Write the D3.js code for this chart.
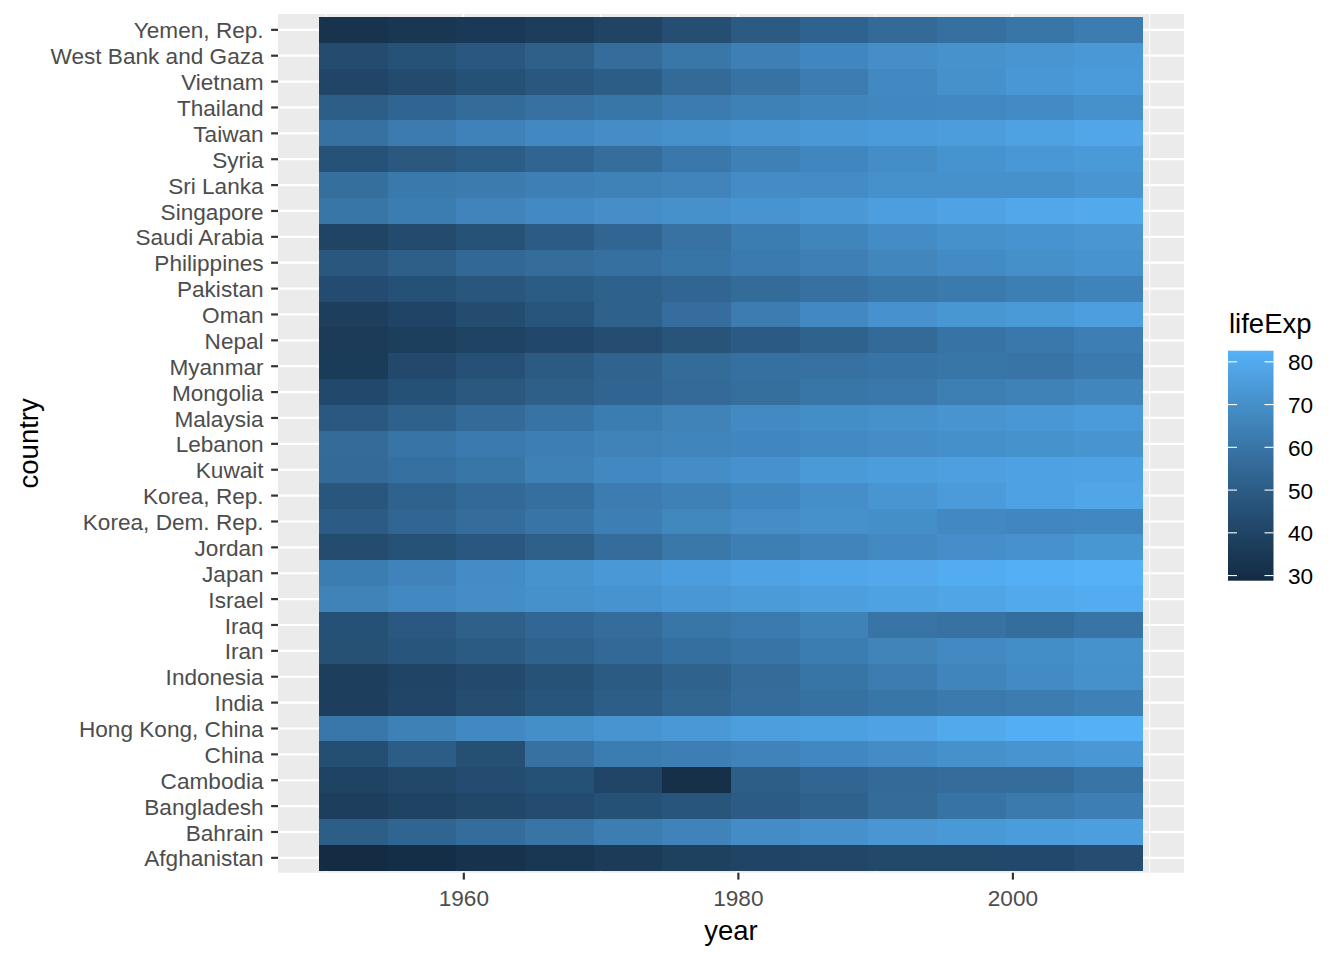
<!DOCTYPE html>
<html><head><meta charset="utf-8">
<script src="https://cdn.jsdelivr.net/npm/d3@7"></script>
<style>body{margin:0;background:#fff}svg{display:block;font-family:"Liberation Sans",Arial,sans-serif}</style>
</head><body><svg id="c" width="1344" height="960"></svg>
<script>
const years = [1952,1957,1962,1967,1972,1977,1982,1987,1992,1997,2002,2007];
const countries = ["Afghanistan","Bahrain","Bangladesh","Cambodia","China","Hong Kong, China","India","Indonesia","Iran","Iraq","Israel","Japan","Jordan","Korea, Dem. Rep.","Korea, Rep.","Kuwait","Lebanon","Malaysia","Mongolia","Myanmar","Nepal","Oman","Pakistan","Philippines","Saudi Arabia","Singapore","Sri Lanka","Syria","Taiwan","Thailand","Vietnam","West Bank and Gaza","Yemen, Rep."];
const lifeExp = [
[28.801,30.332,31.997,34.02,36.088,38.438,39.854,40.822,41.674,41.763,42.129,43.828],
[50.939,53.832,56.923,59.923,63.3,65.593,69.052,70.75,72.601,73.925,74.795,75.635],
[37.484,39.348,41.216,43.453,45.252,46.923,50.009,52.819,56.018,59.412,62.013,64.062],
[39.417,41.366,43.415,45.415,40.317,31.22,50.957,53.914,55.803,56.534,56.752,59.723],
[44,50.549,44.501,58.381,63.119,63.967,65.525,67.274,68.69,70.426,72.028,72.961],
[60.96,64.75,67.65,70,72,73.6,75.45,76.2,77.601,80,81.495,82.208],
[37.373,40.249,43.605,47.193,50.651,54.208,56.596,58.553,60.223,61.765,62.879,64.698],
[37.468,39.918,42.518,45.964,49.203,52.702,56.159,60.137,62.681,66.041,68.588,70.65],
[44.869,47.181,49.325,52.469,55.234,57.702,59.62,63.04,65.742,68.042,69.451,70.964],
[45.32,48.437,51.457,54.459,56.95,60.413,62.038,65.044,59.461,58.811,57.046,59.545],
[65.39,67.84,69.39,70.75,71.63,73.06,74.45,75.6,76.93,78.269,79.696,80.745],
[63.03,65.5,68.73,71.43,73.42,75.38,77.11,78.67,79.36,80.69,82,82.603],
[43.158,45.669,48.126,51.629,56.528,61.134,63.739,65.869,68.015,69.772,71.263,72.535],
[50.056,54.081,56.656,59.942,63.983,67.159,69.1,70.647,69.978,67.727,66.662,67.297],
[47.453,52.681,55.292,57.716,62.612,64.766,67.123,69.81,72.244,74.647,77.045,78.623],
[55.565,58.033,60.47,64.624,67.712,69.343,71.309,74.174,75.19,76.156,76.904,77.588],
[55.928,59.489,62.094,63.87,65.421,66.099,66.983,67.926,69.292,70.265,71.028,71.993],
[48.463,52.102,55.737,59.371,63.01,65.256,68,69.5,70.693,71.938,73.044,74.241],
[42.244,45.248,48.251,51.253,53.754,55.491,57.489,60.222,61.271,63.625,65.033,66.803],
[36.319,41.905,45.108,49.379,53.07,56.059,58.056,58.339,59.32,60.328,59.908,62.069],
[36.157,37.686,39.393,41.472,43.971,46.748,49.594,52.537,55.727,59.426,61.34,63.785],
[37.578,40.08,43.165,46.988,52.143,57.367,62.728,67.734,71.197,72.499,74.193,75.64],
[43.436,45.557,47.67,49.8,51.929,54.043,56.158,58.245,60.838,61.818,63.61,65.483],
[47.752,51.334,54.757,56.393,58.065,60.06,62.082,64.151,66.458,68.564,70.303,71.688],
[39.875,42.868,45.914,49.901,53.886,58.69,63.012,66.295,68.768,70.533,71.626,72.777],
[60.396,63.179,65.798,67.946,69.521,70.795,71.76,73.56,75.788,77.158,78.77,79.972],
[57.593,61.456,62.192,64.266,65.042,65.949,68.757,69.011,70.379,70.457,70.815,72.396],
[45.883,48.284,50.305,53.655,57.296,61.195,64.59,66.974,69.249,71.527,73.053,74.143],
[58.5,62.4,65.2,67.5,69.39,70.59,72.16,73.4,74.26,75.25,76.99,78.4],
[50.848,53.63,56.061,58.285,60.405,62.494,64.597,66.084,67.298,67.521,68.564,70.616],
[40.412,42.887,45.363,47.838,50.254,55.764,58.816,62.82,67.662,70.672,73.017,74.249],
[43.16,45.671,48.127,51.631,56.532,60.765,64.406,67.046,69.718,71.096,72.37,73.422],
[32.548,33.97,35.18,36.984,39.848,44.175,49.113,52.922,55.599,58.02,60.308,62.698]
];
const xTicks = [1960,1980,2000];
const xMinor = [1950,1970,1990,2010];
const legendTicks = [30,40,50,60,70,80];

const data = [];
countries.forEach((c,i)=>years.forEach((y,j)=>data.push({country:c,year:y,v:lifeExp[i][j]})));

const FS = 22.6, TS = 27.5;
const svg = d3.select("#c");
const P = {l:278, r:1184, t:14, b:872.7};
const x = d3.scaleLinear().domain([1946.5, 2012.5]).range([P.l,P.r]);
const yb = d3.scaleBand().domain(countries).range([870.8,16.9]).padding(0);
const allV = data.map(d=>d.v);
const col = d3.scaleLinear().domain(d3.extent(allV)).range(["#132B43","#56B1F7"]).interpolate(d3.interpolateLab);

svg.append("rect").attr("x",P.l).attr("y",P.t).attr("width",P.r-P.l).attr("height",P.b-P.t).attr("fill","#EBEBEB");
const g = svg.append("g");
xMinor.forEach(t=>g.append("line").attr("x1",x(t)).attr("x2",x(t)).attr("y1",P.t).attr("y2",P.b).attr("stroke","#fff").attr("stroke-width",1.1));
xTicks.forEach(t=>g.append("line").attr("x1",x(t)).attr("x2",x(t)).attr("y1",P.t).attr("y2",P.b).attr("stroke","#fff").attr("stroke-width",2.2));
countries.forEach(c=>{const yy=yb(c)+yb.bandwidth()/2; g.append("line").attr("x1",P.l).attr("x2",P.r).attr("y1",yy).attr("y2",yy).attr("stroke","#fff").attr("stroke-width",2.2);});

svg.append("g").selectAll("rect").data(data).join("rect")
  .attr("x",d=>x(d.year-2.5)).attr("width",d=>x(d.year+2.5)-x(d.year-2.5))
  .attr("y",d=>yb(d.country)).attr("height",yb.bandwidth())
  .attr("fill",d=>col(d.v)).attr("shape-rendering","crispEdges");

// axes
const xa = svg.append("g").attr("transform",`translate(0,${P.b})`)
  .call(d3.axisBottom(x).tickValues(xTicks).tickFormat(d3.format("d")).tickSize(6.9).tickPadding(6));
xa.select(".domain").remove();
xa.selectAll("line").attr("stroke","#333").attr("stroke-width",2.2);
xa.selectAll("text").attr("fill","#4D4D4D").attr("dy",null).attr("y",33.3).style("font-size",FS+"px").style("font-family","'Liberation Sans',Arial,sans-serif");
const ya = svg.append("g").attr("transform",`translate(${P.l},0)`)
  .call(d3.axisLeft(yb).tickSize(6.9).tickPadding(7.5));
ya.select(".domain").remove();
ya.selectAll("line").attr("stroke","#333").attr("stroke-width",2.2);
ya.selectAll("text").attr("fill","#4D4D4D").attr("dy","0.38em").style("font-size",FS+"px").style("font-family","'Liberation Sans',Arial,sans-serif");

svg.append("text").attr("x",(P.l+P.r)/2).attr("y",940).attr("text-anchor","middle").style("font-size",TS+"px").attr("fill","#000").text("year");
svg.append("text").attr("transform",`translate(38,${(P.t+P.b)/2}) rotate(-90)`).attr("text-anchor","middle").style("font-size",TS+"px").attr("fill","#000").text("country");

// legend
const L = {x:1228, y0:350.7, y1:580.7, w:45.5};
const ly = d3.scaleLinear().domain(d3.extent(allV)).range([L.y1,L.y0]);
const defs = svg.append("defs");
const grad = defs.append("linearGradient").attr("id","lg").attr("x1",0).attr("y1",1).attr("x2",0).attr("y2",0);
d3.range(0,1.0001,0.05).forEach(t=>grad.append("stop").attr("offset",t).attr("stop-color",col(col.domain()[0]+t*(col.domain()[1]-col.domain()[0]))));
svg.append("rect").attr("x",L.x).attr("y",L.y0).attr("width",L.w).attr("height",L.y1-L.y0).attr("fill","url(#lg)");
legendTicks.forEach(t=>{
  const yy = ly(t);
  svg.append("line").attr("x1",L.x).attr("x2",L.x+9).attr("y1",yy).attr("y2",yy).attr("stroke","#fff").attr("stroke-width",1.1);
  svg.append("line").attr("x1",L.x+L.w-9).attr("x2",L.x+L.w).attr("y1",yy).attr("y2",yy).attr("stroke","#fff").attr("stroke-width",1.1);
  svg.append("text").attr("x",1288).attr("y",yy).attr("dy","0.38em").style("font-size",FS+"px").attr("fill","#000").text(t);
});
svg.append("text").attr("x",1229).attr("y",333).style("font-size",TS+"px").attr("fill","#000").text("lifeExp");
</script></body></html>
